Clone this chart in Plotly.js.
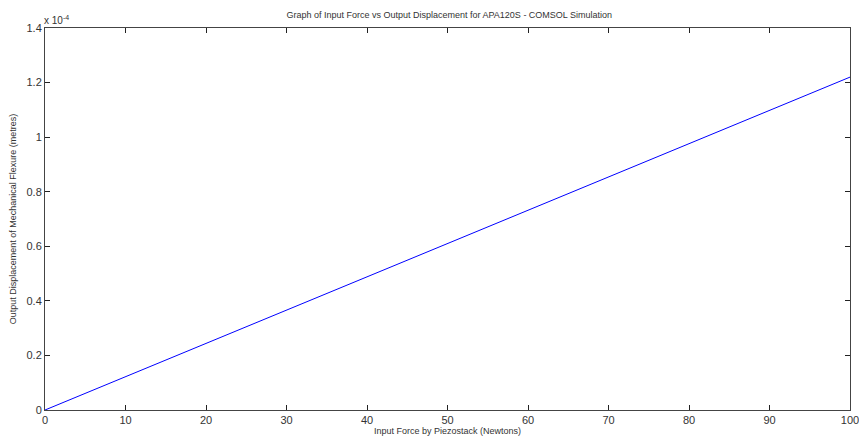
<!DOCTYPE html>
<html>
<head>
<meta charset="utf-8">
<script src="https://cdn.plot.ly/plotly-3.0.1.min.js"></script>
<style>html,body{margin:0;padding:0;background:#fff;}#chart{width:859px;height:441px;}</style>
</head>
<body>
<div id="chart"></div>
<script>
const forceN = [0, 100];
const displacementM = [0, 1.22e-4];
const xTicks = [0, 10, 20, 30, 40, 50, 60, 70, 80, 90, 100];
const yTickVals = [0, 0.2e-4, 0.4e-4, 0.6e-4, 0.8e-4, 1.0e-4, 1.2e-4, 1.4e-4];
const yTickText = ['0', '0.2', '0.4', '0.6', '0.8', '1', '1.2', '1.4'];

const fontFam = 'Liberation Sans, Arial, sans-serif';
const trace = {
  x: forceN, y: displacementM, type: 'scatter', mode: 'lines',
  line: {color: '#0000ff', width: 1}, hoverinfo: 'skip'
};
const axisCommon = {
  showgrid: false, zeroline: false, showline: true, linecolor: '#444', linewidth: 1,
  mirror: 'ticks', ticks: 'inside', ticklen: 5, tickcolor: '#222', tickwidth: 1,
  ticklabeloverflow: 'allow',
  tickfont: {family: fontFam, size: 11, color: '#333'}
};
const layout = {
  width: 859, height: 441,
  margin: {l: 45, r: 9, t: 28, b: 31},
  paper_bgcolor: '#fff', plot_bgcolor: '#fff',
  showlegend: false,
  title: {text: 'Graph of Input Force vs Output Displacement for APA120S - COMSOL Simulation',
    font: {family: fontFam, size: 9, color: '#333'}, x: 0.523, xanchor: 'center', y: 0.966, yanchor: 'middle'},
  xaxis: Object.assign({}, axisCommon, {
    range: [0, 100], tickvals: xTicks, ticktext: xTicks.map(String),
    title: {text: 'Input Force by Piezostack (Newtons)', font: {family: fontFam, size: 9, color: '#333'}, standoff: 2}
  }),
  yaxis: Object.assign({}, axisCommon, {
    range: [0, 1.4e-4], tickvals: yTickVals, ticktext: yTickText,
    title: {text: 'Output Displacement of Mechanical Flexure (metres)', font: {family: fontFam, size: 9, color: '#333'}, standoff: 8}
  }),
  annotations: [{
    text: 'x 10<sup>-4</sup>', xref: 'paper', yref: 'paper', x: 0, y: 1, xanchor: 'left', yanchor: 'bottom',
    xshift: -3, yshift: 0, showarrow: false, font: {family: fontFam, size: 10, color: '#333'}
  }]
};
Plotly.newPlot('chart', [trace], layout, {displayModeBar: false, staticPlot: true});
</script>
</body>
</html>
